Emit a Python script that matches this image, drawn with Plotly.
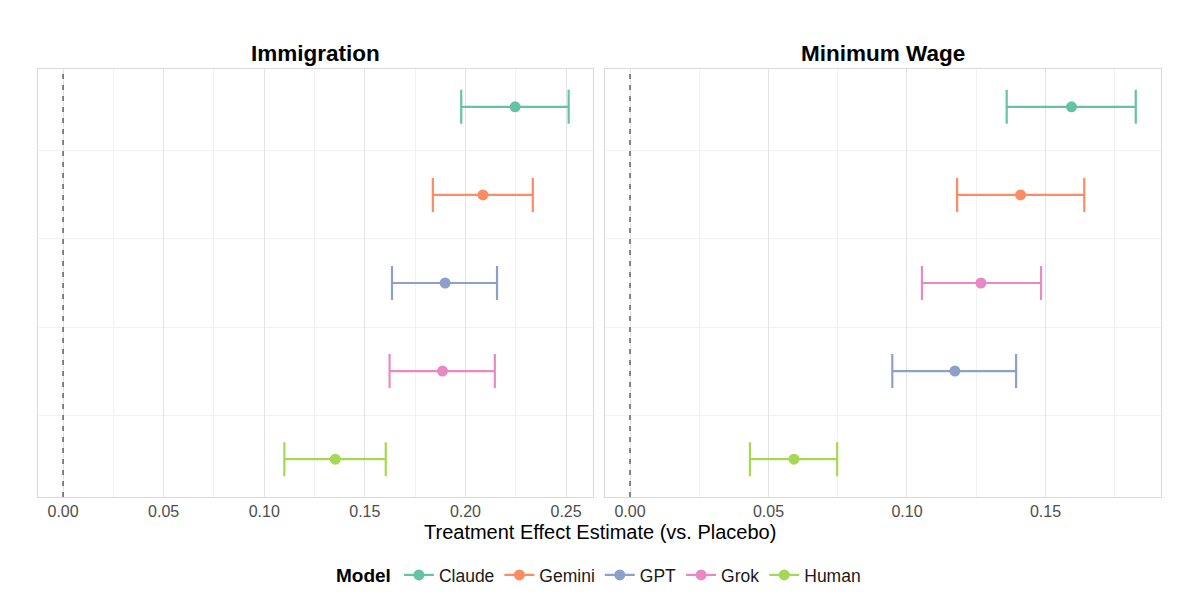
import plotly.graph_objects as go

models = ["Claude", "Gemini", "GPT", "Grok", "Human"]
colors = ["#66C2A5", "#FC8D62", "#8DA0CB", "#E78AC3", "#A6D854"]

# Immigration panel
imm_order = ["Claude", "Gemini", "GPT", "Grok", "Human"]
imm_est = [0.2247, 0.2087, 0.1899, 0.1886, 0.1353]
imm_lo = [0.1979, 0.1838, 0.1635, 0.1623, 0.1100]
imm_hi = [0.2513, 0.2335, 0.2157, 0.2146, 0.1604]

# Minimum wage panel
mw_order = ["Claude", "Gemini", "Grok", "GPT", "Human"]
mw_est = [0.1594, 0.1410, 0.1267, 0.1173, 0.0592]
mw_lo = [0.1360, 0.1181, 0.1054, 0.0947, 0.0433]
mw_hi = [0.1826, 0.1640, 0.1484, 0.1394, 0.0748]

panel_titles = ["Immigration", "Minimum Wage"]
x_title = "Treatment Effect Estimate (vs. Placebo)"
imm_ticks = [0.00, 0.05, 0.10, 0.15, 0.20, 0.25]
mw_ticks = [0.00, 0.05, 0.10, 0.15]

# page body has an 8px margin: figure is drawn offset by (8, 8)
OFF = 8
W, H = 1200 - OFF, 602 - OFF
FONT = "Liberation Sans, Arial, Helvetica, sans-serif"

fig = go.Figure()

panels = [
    (imm_order, imm_est, imm_lo, imm_hi, "x", "y"),
    (mw_order, mw_est, mw_lo, mw_hi, "x2", "y2"),
]
for pi, (order, est, lo, hi, xa, ya) in enumerate(panels):
    for m, c in zip(models, colors):
        i = order.index(m)
        fig.add_trace(go.Scatter(
            x=[est[i]], y=[m], xaxis=xa, yaxis=ya,
            mode="lines+markers", name=m, legendgroup=m,
            showlegend=(pi == 0),
            marker=dict(color=c, size=11),
            line=dict(color=c, width=2.2),
            error_x=dict(type="data", symmetric=False,
                         array=[hi[i] - est[i]], arrayminus=[est[i] - lo[i]],
                         color=c, thickness=2.2, width=17),
            hoverinfo="x+y",
        ))

px2fx = lambda p: (p - OFF) / W
px2fy = lambda p: 1 - (p - OFF) / H

L1, R1 = 38.3, 593.0
L2, R2 = 604.6, 1160.7
TOP, BOT = 69.0, 497.0

ydom = [px2fy(BOT), px2fy(TOP)]
common_x = dict(
    showgrid=True, gridcolor="#E3E3E3", gridwidth=1.2,
    zeroline=False, showline=True, linecolor="#DADADA", linewidth=1.2, mirror=True,
    ticks="", ticklen=0,
    tickfont=dict(family=FONT, size=16, color="#4D4D4D"),
    tickformat=".2f",
    minor=dict(dtick=0.025, showgrid=True, gridcolor="#F1F1F1", gridwidth=1),
)
common_y = dict(
    showgrid=False, showticklabels=False,
    zeroline=False, showline=True, linecolor="#DADADA", linewidth=1.2, mirror=True,
    type="category", range=[4.43, -0.43],
    minor=dict(tickvals=[0.5, 1.5, 2.5, 3.5], showgrid=True, gridcolor="#F1F1F1", gridwidth=1),
)

fig.update_layout(
    width=W, height=H,
    margin=dict(l=0, r=0, t=0, b=0),
    paper_bgcolor="white", plot_bgcolor="white",
    font=dict(family=FONT, color="#1A1A1A"),
    xaxis=dict(common_x, domain=[px2fx(L1), px2fx(R1)], range=[-0.0123, 0.2634],
               tickvals=imm_ticks),
    yaxis=dict(common_y, domain=ydom, anchor="x", categoryarray=imm_order),
    xaxis2=dict(common_x, domain=[px2fx(L2), px2fx(R2)], range=[-0.00917, 0.1916],
                tickvals=mw_ticks, anchor="y2"),
    yaxis2=dict(common_y, domain=ydom, anchor="x2", categoryarray=mw_order),
    showlegend=True,
    legend=dict(orientation="h", x=px2fx(600), xanchor="center",
                y=px2fy(575), yanchor="middle",
                title=dict(text="<b>Model</b>", font=dict(family=FONT, size=19, color="#000")),
                font=dict(family=FONT, size=17.5, color="#1A1A1A"),
                itemwidth=30, tracegroupgap=0),
)

fig.add_shape(type="line", xref="x", yref="y domain", x0=0, x1=0, y0=0, y1=1,
              line=dict(color="#606060", width=1.5, dash="5px,6px"))
fig.add_shape(type="line", xref="x2", yref="y2 domain", x0=0, x1=0, y0=0, y1=1,
              line=dict(color="#606060", width=1.5, dash="5px,6px"))

fig.add_annotation(text="<b>" + panel_titles[0] + "</b>", xref="paper", yref="paper",
                   x=(px2fx(L1) + px2fx(R1)) / 2, y=px2fy(53), showarrow=False,
                   xanchor="center", yanchor="middle",
                   font=dict(family=FONT, size=22.5, color="#000"))
fig.add_annotation(text="<b>" + panel_titles[1] + "</b>", xref="paper", yref="paper",
                   x=(px2fx(L2) + px2fx(R2)) / 2, y=px2fy(53), showarrow=False,
                   xanchor="center", yanchor="middle",
                   font=dict(family=FONT, size=22.5, color="#000"))
fig.add_annotation(text=x_title, xref="paper", yref="paper",
                   x=(px2fx(L1) + px2fx(R2)) / 2, y=px2fy(532), showarrow=False,
                   xanchor="center", yanchor="middle",
                   font=dict(family=FONT, size=20, color="#000"))

fig.write_html("out.html")
